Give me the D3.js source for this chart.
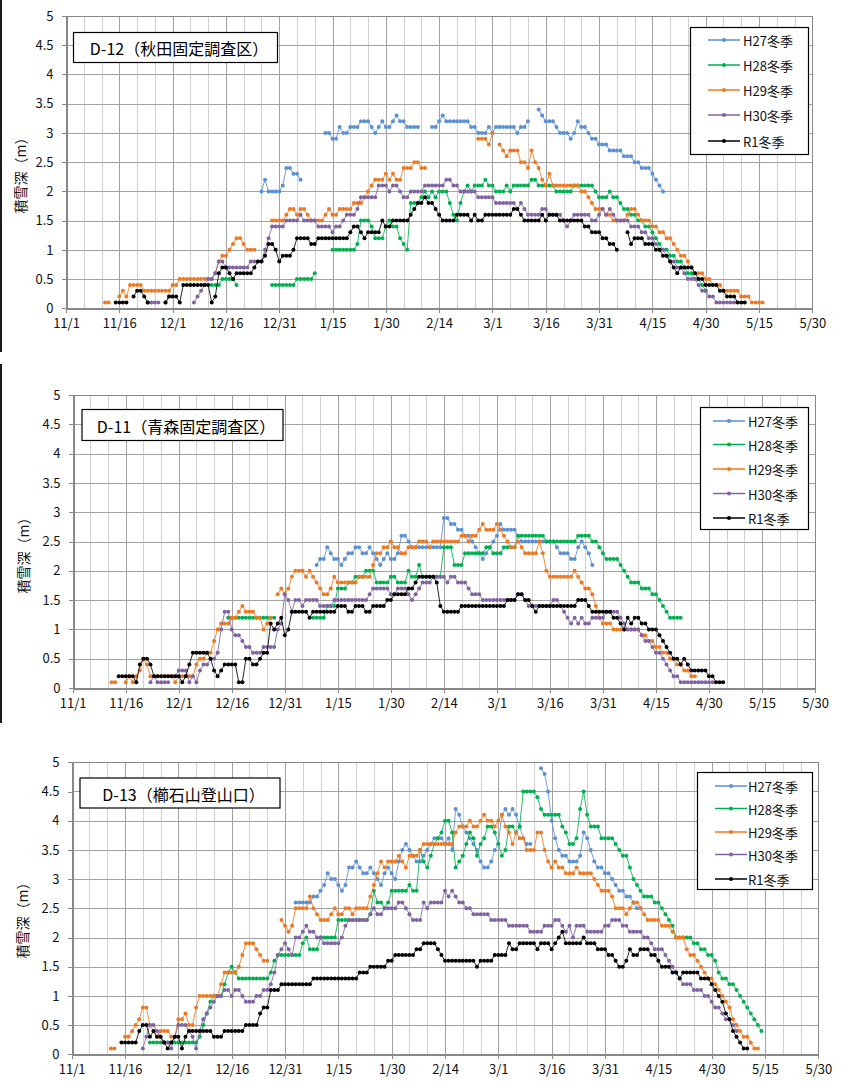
<!DOCTYPE html>
<html>
<head>
<meta charset="utf-8">
<script src="https://cdn.jsdelivr.net/npm/d3@7"></script>
<style>
  body { margin: 0; background: #fff; }
  svg { display: block; }
</style>
</head>
<body>
<svg id="chart" width="848" height="1082"></svg>
<script>
// ---- Axis labels and series names ----
const xTickLabels = ["11/1","11/16","12/1","12/16","12/31","1/15","1/30","2/14","3/1","3/16","3/31","4/15","4/30","5/15","5/30"];
const yTickValues = [0,0.5,1,1.5,2,2.5,3,3.5,4,4.5,5];
const seasons = ["H27冬季","H28冬季","H29冬季","H30冬季","R1冬季"];
const seasonColors = ["#5b8fd6","#00b050","#f07820","#8064a2","#000000"];

// Snow depth (m), one value per day; each segment is [day offset from 11/1, values]
// ---- D-12 秋田固定調査区 ----
const d12H27 = [
  [55, [2.0,2.2,2.0,2.0,2.0,2.0,2.1,2.4,2.4,2.3,2.3,2.2]],
  [73, [3.0,3.0,2.9,2.9,3.1,3.0,3.0,3.1,3.1,3.1,3.2,3.2,3.2,3.1,3.0,3.1,3.2,3.1,3.1,3.2,3.3,3.2,3.2,3.1,3.1,3.1,3.1]],
  [103,[3.1,3.1,3.2,3.3,3.2,3.2,3.2,3.2,3.2,3.2,3.2,3.1,3.1,3.0,3.0,3.0,3.1,3.0,3.1,3.1,3.1,3.1,3.1,3.1,3.0,3.1,3.1,3.2]],
  [133,[3.4,3.3,3.2,3.2,3.2,3.1,3.0,3.0,3.0,2.9,3.0,3.2,3.1,3.1,3.0,2.9,2.9,2.8,2.8,2.8,2.7,2.7,2.7,2.7,2.6,2.6,2.6,2.5,2.5,2.4,2.4,2.4,2.3,2.2,2.1,2.0]]
];
const d12H28 = [
  [41, [0.4,0.4,0.4,0.5,0.5,0.5,0.5,0.4]],
  [58, [0.4,0.4,0.4,0.4,0.4,0.4,0.4,0.5,0.5,0.5,0.5,0.5,0.6]],
  [75, [1.0,1.0,1.0,1.0,1.0,1.0,1.0,1.1,1.5,1.5,1.5,1.4,1.2,1.2,1.2,1.4,1.5,1.4,1.4,1.2,1.1,1.0,
        1.8,1.8,1.8,1.9,2.0,1.9,2.0,1.9,2.0,2.0,2.0,1.8,1.6,1.5,1.8,2.0,
        2.1,2.0,2.1,2.1,2.1,2.2,2.1,2.1,2.0,2.0,2.0,2.1,2.0,2.1,2.1,2.1,2.1,2.1,2.2,2.2,2.1,2.1,2.1,2.1,2.1,2.0,2.0,2.0,2.0,2.0,2.1,2.1,2.1,2.1,2.1,2.1,
        2.0,1.9,1.9,1.9,2.0,1.9,1.9,1.8,1.7,1.7,1.6,1.6,1.5,1.5,1.4,1.4,1.3,1.2,1.1,1.0,1.0,0.9,0.9,0.8,0.8,0.7,0.6,0.6,0.5,0.5,0.4,0.3]]
];
const d12H29 = [
  [11, [0.1,0.1]],
  [15, [0.2,0.3,0.2,0.4,0.4,0.4,0.4,0.3,0.3,0.3,0.3,0.3,0.3,0.3,0.3,0.4,0.4,0.5,0.5,0.5,0.5,0.5,0.5,0.5,0.5,0.5,0.5,0.6,0.8,0.9,0.9,1.0,1.1,1.2,1.2,1.1,1.0,1.0,1.0]],
  [58, [1.5,1.5,1.5,1.5,1.6,1.7,1.7,1.6,1.7,1.7,1.6,1.5,1.5,1.5,1.5,1.6,1.7,1.6,1.6,1.7,1.7,1.7,1.7,1.8,1.8,1.8,1.9,2.0,2.1,2.2,2.2,2.2,2.3,2.2,2.3,2.2,2.2,2.4,2.4,2.4,2.5,2.5,2.4,2.4]],
  [116,[2.9,2.9,2.9,2.8,3.0]],
  [122,[2.8,2.7,2.6,2.7,2.7,2.7,2.5,2.5,2.4,2.7,2.5,2.4,2.2,2.1,2.3,2.1,2.1,2.1,2.1,2.1,2.1,2.1,2.1,2.0,2.0,1.9,1.8,1.7,1.7,1.7,1.6,1.6,1.5,1.5,1.5,1.5,1.6,1.7,1.7,1.6,1.5,1.5,1.5,1.4,1.4,1.3,1.3,1.2,1.2,1.1,1.0,0.9,0.9,0.8,0.7,0.6,0.6,0.6,0.5,0.5,0.4,0.4,0.4,0.3,0.3,0.3,0.3,0.3,0.2,0.2,0.2,0.1,0.1,0.1,0.1]]
];
const d12H30 = [
  [23, [0.1,0.1,0.1,0.1]],
  [28, [0.1,0.2,0.2]],
  [36, [0.1,0.2,0.3,0.4,0.5,0.5,0.6,0.8,0.8,0.7,0.7,0.7,0.7,0.7,0.7,0.7,0.8,0.8,0.8,0.8,1.0,1.2,1.4,1.4,1.4,1.4,1.5,1.5,1.5,1.5,
        1.6,1.5,1.5,1.5,1.5,1.4,1.4,1.4,1.4,1.3,1.4,1.4,1.5,1.6,1.6,1.6,1.7,1.9,1.9,1.9,1.9,1.9,2.1,2.1,2.1,2.0,2.1,2.1,2.0,1.9,1.9,
        2.0,2.0,2.0,2.0,2.1,2.1,2.1,2.1,2.1,2.1,2.2,2.2,2.1,2.1,2.0,2.0,2.0,2.0,2.0,1.9,1.9,1.9,1.9,1.9,1.8,1.8,1.8,1.8,1.8,1.8,
        1.7,1.8,1.7,1.6,1.6,1.6,1.6,1.7,1.7,1.6,1.6,1.6,1.6,1.5,1.4,1.5,1.6,1.6,1.6,1.6,1.6,1.5,1.5,1.6,1.7,1.6,1.7,1.6,
        1.5,1.5,1.5,1.5,1.4,1.4,1.4,1.3,1.3,1.2,1.2,1.1,1.0,1.0,0.9,0.8,0.8,0.7,0.7,0.6,0.5,0.5,0.5,0.4,0.3,0.3,0.2,0.2,0.1,0.1,0.1,0.1,0.1,0.1]]
];
const d12R1 = [
  [14, [0.1,0.1,0.1,0.1]],
  [19, [0.2,0.3,0.3,0.2,0.1]],
  [28, [0.1,0.2,0.2,0.2,0.1,0.4,0.4,0.4,0.4,0.4,0.4,0.4,0.4,0.1,0.2,0.6,0.7,0.7,0.6,0.5,0.6,0.6,0.6,0.6,0.6,0.7,0.8,0.8,0.9,
        1.1,1.1,1.0,0.8,0.9,0.9,0.9,1.0,1.2,1.2,1.2,1.2,1.1,1.1,1.2,1.2,1.2,1.2,1.2,1.2,1.2,1.2,1.2,1.3,1.4,1.4,1.3,1.2,
        1.3,1.3,1.3,1.3,1.5,1.4,1.4,1.5,1.5,1.5,1.5,1.5,1.6,1.7,1.8,1.8,1.9,1.8,1.8,1.7,1.6,1.5,1.5,1.5,1.5,1.6,1.6,1.6,1.6,
        1.5,1.6,1.5,1.5,1.6,1.6,1.6,1.6,1.6,1.6,1.6,1.6,1.7,1.7,1.6,1.5,1.5,1.5,1.5,1.5,1.6,1.5,1.6,1.6,1.6,
        1.5,1.5,1.5,1.5,1.5,1.5,1.5,1.4,1.4,1.3,1.3,1.3,1.2,1.2,1.1,1.1,1.0]],
  [158,[1.3,1.1,1.2,1.2,1.2,1.1,1.1,1.1,1.0,1.0,0.9,0.9,0.8,0.7,0.6,0.7,0.7,0.7,0.7,0.6,0.5,0.5,0.4,0.4,0.4,0.4,0.3,0.3,0.2,0.2,0.2,0.1,0.1,0.1]]
];

// ---- D-11 青森固定調査区 ----
const d11H27 = [
  [69, [2.1,2.2,2.2,2.4,2.3,2.2,2.2,2.1,2.2,2.3,2.3,2.4,2.4,2.3,2.3,2.4,2.3,2.2,2.1,2.2,2.3,2.2,2.2,2.3,2.6,2.6,2.5,
        2.4,2.4,2.4,2.4,2.4,2.4,2.4,2.4,2.4,2.9,2.9,2.8,2.8,2.7,2.7,2.6,2.6,2.5,2.4,2.3,2.2,2.3,2.4,2.5,2.6,2.8,
        2.7,2.7,2.7,2.7,2.6,2.5,2.5,2.5,2.5,2.5,2.5,2.5,2.5,2.5,2.5,2.4,2.3,2.3,2.3,2.2,2.2,2.4,2.5,2.4,2.3,2.1]]
];
const d11H28 = [
  [44, [1.2,1.2,1.2,1.2,1.2,1.2,1.2,1.2,1.2,1.2,1.2,1.2,1.2,1.2]],
  [68, [1.2,1.2,1.2,1.2,1.4,1.4,1.4,1.7,1.7,1.7,1.8,1.8,1.9,1.9,1.9,2.0,2.0,2.0,1.8,1.8,1.8,1.8,1.9,1.9,1.8,1.8,1.8,
        2.0,1.9,1.9,2.1,1.9,1.9,1.9,1.9,1.9,1.9,2.4,2.4,2.4,2.1,2.1,2.1,2.3,2.3,2.3,2.3,2.3,2.3,2.4,2.4,2.3,2.3,2.3,
        2.4,2.4,2.4,2.4,2.6,2.6,2.6,2.6,2.6,2.6,2.6,2.6,2.5,2.5,2.5,2.5,2.5,2.5,2.5,2.5,2.5,2.6,2.6,2.6,2.6,2.5,2.5,
        2.4,2.3,2.2,2.2,2.2,2.2,2.1,2.0,1.9,1.8,1.8,1.8,1.7,1.7,1.7,1.6,1.6,1.5,1.4,1.3,1.2,1.2,1.2,1.2]]
];
const d11H29 = [
  [11, [0.1,0.1]],
  [15, [0.1,0.2,0.1,0.2,0.3,0.5,0.4,0.2,0.2,0.2,0.2,0.2,0.2,0.2,0.1,0.2,0.2,0.2,0.2,0.2,
        0.4,0.5,0.5,0.6,0.6,0.8,1.0,1.1,1.1,1.1,1.2,1.2,1.3,1.4,1.3,1.3,1.3,1.2,1.2,1.0,1.1,1.2]],
  [58, [1.6,1.7,1.6,1.7,1.9,2.0,2.0,2.0,1.9,2.0,1.9,1.8,1.7,1.6,1.6,1.7,1.9,1.8,1.8,1.8,1.8,1.8,1.8,1.9,1.9,1.9,1.9,
        2.1,2.3,2.3,2.4,2.4,2.5,2.4,2.4,2.3,2.3,2.4,2.4,2.4,2.5,2.5,2.5,2.4,2.5,2.5,2.5,2.5,2.5,2.5,2.5,2.5,
        2.6,2.6,2.5,2.6,2.6,2.7,2.8,2.7,2.7,2.7,2.8,2.7,2.6,2.5,2.4,2.4,2.5,2.4,2.3,2.3,2.3,2.3,2.5,2.3,2.0,
        1.9,1.9,1.9,1.9,1.9,1.9,1.9,2.0,1.9,1.8,1.7,1.7,1.6,1.4,1.2,1.1,1.1,1.1,1.0,1.0,1.0,1.0,1.0,1.0,1.0,1.0,
        0.9,0.9,0.8,0.8,0.7,0.7,0.6,0.6,0.5,0.5,0.4,0.4,0.3,0.3,0.2,0.2]]
];
const d11H30 = [
  [22, [0.1,0.2,0.1,0.1,0.1,0.1]],
  [29, [0.2,0.3,0.3,0.3,0.1,0.2,0.1,0.3,0.4,0.4,0.5,0.5,0.6,1.0,1.3,1.3,1.0,0.9,0.9,0.8,0.7,0.7,0.6,0.6,0.6,0.7,0.7,0.7,0.7,
        1.0,1.1,1.6,1.5,1.3,1.5,1.5,1.4,1.5,1.5,1.5,1.5,1.4,1.4,1.4,1.4,1.5,1.5,1.5,1.5,1.5,1.5,1.5,1.5,1.5,1.5,
        1.6,1.7,1.7,1.7,1.7,1.7,1.6,1.6,1.7,1.7,1.7,1.6,1.5,1.6,1.7,1.8,1.8,1.8,1.9,1.9,1.9,1.9,1.8,1.9,1.9,1.8,1.8,1.8,
        1.7,1.6,1.6,1.6,1.5,1.5,1.5,1.5,1.5,1.5,1.5,1.5,1.5,1.5,1.6,1.6,1.5,1.4,1.4,1.4,1.4,1.4,1.4,1.4,1.5,1.5,
        1.4,1.3,1.2,1.1,1.2,1.1,1.2,1.1,1.1,1.2,1.2,1.2,1.2,1.3,1.3,1.3,1.3,1.2,1.1,1.0,1.0,1.0,1.0,
        0.9,0.8,0.8,0.7,0.6,0.6,0.5,0.4,0.3,0.2,0.2,0.1,0.1,0.1,0.1,0.1,0.1,0.1,0.1,0.1,0.1]]
];
const d11R1 = [
  [13, [0.2,0.2,0.2,0.2,0.2,0.1,0.4,0.5,0.5,0.4,0.2,0.2,0.2,0.2,0.2,0.2,0.2,0.2,0.1,0.2,0.4,0.6,0.6,0.6,0.6,0.6,
        0.5,0.3,0.2,0.3,0.4,0.4,0.4,0.4,0.1,0.1,0.5,0.5,0.4,0.4,0.5,0.6,0.6,1.1,1.0,1.1,1.2,0.9,1.0,
        1.3,1.3,1.3,1.3,1.3,1.2,1.3,1.3,1.3,1.3,1.3,1.3,1.3,1.4,1.4,1.4,1.3,1.3,1.4,1.4,1.4,1.3,1.3,1.4,1.4,1.4,1.4,
        1.5,1.5,1.6,1.6,1.6,1.6,1.7,1.7,1.8,1.9,1.9,1.9,1.9,1.9,1.8,1.4,1.3,1.3,1.3,1.3,1.3,
        1.4,1.4,1.4,1.4,1.4,1.4,1.4,1.4,1.4,1.4,1.4,1.4,1.4,1.5,1.5,1.5,1.6,1.6,1.5,1.5,1.4,1.3,
        1.4,1.4,1.4,1.4,1.4,1.4,1.4,1.4,1.4,1.4,1.4,1.5,1.5,1.5,1.4,1.3,1.3,1.3,1.3,1.3,1.3,1.2,1.2,
        1.1,1.0,1.2,1.1,1.2,1.2,1.1,1.1,1.0,1.0,1.0,0.9,0.8,0.7,0.6,0.5,0.5,0.4,0.5,0.4,0.3,0.3,0.3,0.3,0.3,0.2,0.2,0.1,0.1,0.1]]
];

// ---- D-13 櫛石山登山口 ----
const d13H27 = [
  [63, [2.6,2.6,2.6,2.6,2.6,2.7,2.7,2.8,2.9,3.1,3.0,3.0,2.9,2.8,2.9,3.2,3.2,3.3,3.2,3.1,3.1,3.2,3.1,3.0,2.9,3.1,3.2,3.1,3.0,
        3.3,3.5,3.6,3.5,3.4,3.3,3.3,3.4,3.5,3.6,3.7,3.7,3.7,3.6,3.7,3.5,4.2,4.1,3.9,3.8,3.7,3.6,3.5,3.3,3.2,3.2,3.3,3.5,3.6,
        4.1,4.2,4.1,4.2,4.1,3.9,3.7,3.6,3.6]],
  [132,[4.9,4.8,4.5,4.0,3.7,3.5,3.4,3.4,3.3,3.3,3.3,3.4,3.8,3.7,3.5,3.3,3.2,3.2,3.1,3.1,3.0,2.9,2.8,2.8,2.7,2.7,2.6,2.5,2.5]]
];
const d13H28 = [
  [22, [0.2,0.2,0.2,0.2,0.2,0.2,0.2,0.2,0.2,0.2,0.2,0.2,0.2,0.2,0.3,0.5,0.7,0.9,1.0,1.0,1.0,1.2,1.4,1.5,1.4,
        1.3,1.3,1.3,1.3,1.3,1.3,1.3,1.3,1.3,1.4,1.6,1.7,1.7,1.7,1.7,1.7,1.7,1.7,1.9,2.0,1.8,1.8,1.8,2.0,2.0,2.0,2.0,2.0,
        2.3,2.3,2.3,2.3,2.3,2.3,2.3,2.3,2.3,2.4,2.8,2.6,2.6,2.5,2.6,2.8,2.8,2.8,2.8,2.8,2.9,2.8,2.8,
        3.5,3.3,3.2,3.4,3.6,3.7,3.8,4.0,4.0,3.8,3.2,3.3,3.4,3.6,3.8,3.7,3.4,3.6,3.7,3.9,3.9,3.8,3.6,3.4,3.5,3.9,3.9,3.8,3.9,
        4.5,4.5,4.5,4.5,4.4,4.2,4.1,4.1,4.1,4.1,4.1,3.9,3.8,3.6,3.6,3.7,4.2,4.5,4.1,3.9,3.9,3.9,3.7,3.7,3.7,3.7,
        3.6,3.5,3.4,3.4,3.2,3.0,2.9,2.8,2.7,2.7,2.7,2.6,2.6,2.5,2.4,2.3,2.2,2.0,2.0,2.0,2.0,2.0,1.9,1.9,1.8,1.8,1.7,1.7,
        1.6,1.4,1.3,1.3,1.2,1.2,1.1,1.0,0.9,0.8,0.7,0.6,0.5,0.4]]
];
const d13H29 = [
  [11, [0.1,0.1]],
  [15, [0.3,0.3,0.4,0.5,0.6,0.8,0.8,0.5,0.4,0.3,0.4,0.4,0.4,0.3,0.3,0.6,0.6,0.7,0.5,0.5,0.8,1.0,1.0,1.0,1.0,1.0,1.0,
        1.2,1.4,1.4,1.4,1.4,1.5,1.7,1.9,1.9,1.9,1.8,1.7,1.6,1.6]],
  [59, [2.3,2.2,2.1,2.2,2.5,2.5,2.5,2.5,2.7,2.5,2.4,2.3,2.3,2.3,2.4,2.5,2.4,2.4,2.5,2.5,2.4,2.5,2.5,2.5,2.5,
        2.7,2.9,3.1,3.3,3.2,3.3,3.3,3.3,3.4,3.3,3.2,3.4,3.4,3.4,3.5,3.6,3.6,3.6,3.6,3.6,3.6,3.6,3.6,3.6,3.8,3.9,3.9,3.9,
        4.0,3.9,3.9,4.0,4.1,4.0,4.0,3.9,4.0,4.1,3.9,3.8,3.6,3.8,3.7,3.7,3.5,3.5,3.5,3.8,3.8,3.5,3.3,3.2,3.3,3.2,3.2,
        3.1,3.1,3.1,3.2,3.1,3.1,3.1,3.1,3.0,2.9,2.8,2.8,2.8,2.7,2.5,2.5,2.5,2.4,2.5,2.6,2.6,2.5,2.4,2.3,2.3,2.3,2.3,
        2.2,2.2,2.2,2.1,2.0,2.0,2.0,1.8,1.7,1.7,1.6,1.5,1.4,1.3,1.3,1.2,1.1,1.0,0.9,0.8,0.6,0.5,0.4,0.3,0.3,0.2,0.1,0.1]]
];
const d13H30 = [
  [20, [0.1,0.3,0.5,0.5,0.4,0.3,0.2,0.2,0.1,0.3,0.5,0.5,0.5,0.4,0.3,0.1,0.4,0.6,0.7,0.8,0.9,1.0,1.0,1.1,1.1,
        1.0,1.1,1.1,1.0,0.9,0.9,0.9,1.0,1.0,1.1,1.1,1.2,1.4,1.7,1.8,1.9,1.8,1.7,2.0,2.0,2.1,2.2,2.1,2.1,2.0,2.0,
        1.9,1.9,1.9,1.9,1.9,2.0,2.2,2.3,2.3,2.3,2.3,2.3,2.3,2.4,2.5,2.4,2.4,2.5,2.5,2.5,2.5,2.6,2.6,2.5,2.4,
        2.3,2.3,2.3,2.6,2.5,2.6,2.6,2.6,2.6,2.8,2.7,2.8,2.7,2.6,2.6,2.5,2.5,2.4,2.4,2.4,2.4,2.4,2.3,2.3,2.3,2.3,2.3,
        2.2,2.2,2.2,2.2,2.2,2.2,2.1,2.1,2.1,2.1,2.2,2.2,2.2,2.3,2.3,2.2,2.1,2.2,2.0,2.2,2.2,2.2,2.1,2.1,2.1,2.1,2.1,
        2.2,2.2,2.3,2.3,2.3,2.2,2.2,2.1,2.1,2.1,2.1,2.0,2.0,1.9,1.8,1.8,1.8,1.7,1.6,1.5,1.4,1.3,1.2,1.2,1.2,
        1.1,1.1,1.1,1.0,1.0,0.9,0.8,0.8,0.7,0.6,0.6,0.5,0.4]]
];
const d13R1 = [
  [14, [0.2,0.2,0.2,0.2,0.2,0.4,0.5,0.5,0.3,0.4,0.3,0.3,0.2,0.1,0.2,0.3,0.3,0.1,0.3,0.4,0.4,0.4,0.4,0.4,0.4,0.4,
        0.3,0.3,0.3,0.4,0.4,0.4,0.4,0.4,0.4,0.5,0.5,0.5,0.5,0.7,0.8,0.8,1.1,1.1,1.1,1.2,1.2,1.2,1.2,1.2,1.2,1.2,1.2,1.2,
        1.3,1.3,1.3,1.3,1.3,1.3,1.3,1.3,1.3,1.3,1.3,1.3,1.3,1.4,1.4,1.4,1.5,1.5,1.5,1.5,1.5,1.6,1.6,
        1.7,1.7,1.7,1.7,1.7,1.7,1.8,1.8,1.9,1.9,1.9,1.9,1.8,1.7,1.6,1.6,1.6,1.6,1.6,1.6,1.6,1.6,1.6,1.5,
        1.6,1.6,1.6,1.6,1.7,1.7,1.7,1.7,1.9,1.8,1.8,1.9,1.9,1.9,1.9,1.9,1.8,1.9,1.9,1.9,1.8,1.9,2.0,2.1,
        1.9,1.9,1.9,1.9,1.9,2.0,1.9,1.9,1.9,1.8,1.8,1.8,1.7,1.7,1.6,1.5,1.5,1.6,1.8,1.7,1.7,1.8,1.8,1.8,1.7,1.7,
        1.6,1.5,1.5,1.5,1.4,1.4,1.3,1.4,1.4,1.4,1.4,1.4,1.3,1.3,1.3,1.2,1.1,1.0,0.9,0.7,0.6,0.4,0.3,0.2,0.1,0.1]]
];

// ---- Panel layout ----
const panels = [
  { title: "D-12（秋田固定調査区）", series: [d12H27, d12H28, d12H29, d12H30, d12R1],
    x0: 66, x1: 812.3, y0: 16, y1: 308.3,
    titleBox: { x: 73, y: 32, w: 204, h: 30 },
    legend: { x: 690, y: 27, w: 118, h: 127, rows: [40, 65, 90, 115, 141], lx0: 708, lx1: 740, tx: 743 },
    yTitle: { x: 20, y: 172 }, edge: [0, 352] },
  { title: "D-11（青森固定調査区）", series: [d11H27, d11H28, d11H29, d11H30, d11R1],
    x0: 72.7, x1: 815, y0: 395, y1: 688,
    titleBox: { x: 81.5, y: 409, w: 201, h: 31 },
    legend: { x: 700, y: 407, w: 108, h: 122, rows: [421, 444.5, 469, 493.5, 518], lx0: 713, lx1: 745, tx: 748 },
    yTitle: { x: 22.5, y: 552 }, edge: [364, 723] },
  { title: "D-13（櫛石山登山口）", series: [d13H27, d13H28, d13H29, d13H30, d13R1],
    x0: 71.7, x1: 818.3, y0: 762.3, y1: 1054.3,
    titleBox: { x: 79.5, y: 777.5, w: 200, h: 30 },
    legend: { x: 697, y: 772, w: 115, h: 117, rows: [786, 808.5, 832, 854.5, 879], lx0: 715, lx1: 747, tx: 748 },
    yTitle: { x: 22, y: 917 }, edge: null }
];

const FONT = '"Noto Sans CJK JP", "Noto Sans", sans-serif';
const svg = d3.select("#chart");
svg.append("rect").attr("width", 848).attr("height", 1082).attr("fill", "#fff");

const crisp = v => Math.round(v) + 0.5;

panels.forEach(p => {
  const g = svg.append("g");
  const x = d3.scaleLinear().domain([0, 210]).range([p.x0, p.x1]);
  const y = d3.scaleLinear().domain([0, 5]).range([p.y1, p.y0]);

  if (p.edge) {
    g.append("rect").attr("x", 0).attr("y", p.edge[0]).attr("width", 2)
      .attr("height", p.edge[1] - p.edge[0]).attr("fill", "#1c1c1c");
  }

  // grid: light lines every 5 days, darker every 15 days, horizontal every 0.5 m
  const grid = g.append("g").attr("shape-rendering", "crispEdges");
  grid.selectAll("line.minor").data(d3.range(5, 210, 5).filter(d => d % 15 !== 0)).join("line")
    .attr("class", "minor")
    .attr("x1", d => crisp(x(d))).attr("x2", d => crisp(x(d)))
    .attr("y1", p.y0).attr("y2", p.y1).attr("stroke", "#d0d0d0");
  grid.selectAll("line.major").data(d3.range(15, 210, 15)).join("line")
    .attr("class", "major")
    .attr("x1", d => crisp(x(d))).attr("x2", d => crisp(x(d)))
    .attr("y1", p.y0).attr("y2", p.y1).attr("stroke", "#a2a2a2");
  grid.selectAll("line.h").data(yTickValues.filter(v => v > 0 && v < 5)).join("line")
    .attr("class", "h")
    .attr("x1", p.x0).attr("x2", p.x1)
    .attr("y1", d => crisp(y(d))).attr("y2", d => crisp(y(d))).attr("stroke", "#a2a2a2");
  grid.append("rect")
    .attr("x", crisp(p.x0)).attr("y", crisp(p.y0))
    .attr("width", Math.round(p.x1) - Math.round(p.x0)).attr("height", Math.round(p.y1) - Math.round(p.y0))
    .attr("fill", "none").attr("stroke", "#888");

  // axes
  const yAxis = g.append("g").attr("transform", `translate(${crisp(p.x0)},0)`)
    .call(d3.axisLeft(y).tickValues(yTickValues).tickSize(5).tickPadding(8).tickFormat(d3.format("~g")));
  const xAxis = g.append("g").attr("transform", `translate(0,${crisp(p.y1)})`)
    .call(d3.axisBottom(x).tickValues(d3.range(0, 211, 15)).tickSize(4).tickPadding(6)
      .tickFormat((d, i) => xTickLabels[i]));
  [yAxis, xAxis].forEach(a => {
    a.attr("font-family", FONT).attr("font-size", 13);
    a.select(".domain").attr("stroke", "#888").attr("shape-rendering", "crispEdges");
    a.selectAll(".tick line").attr("stroke", "#888").attr("shape-rendering", "crispEdges");
    a.selectAll(".tick text").attr("fill", "#111");
  });

  // series: thin lines with daily dot markers, later seasons drawn on top
  const line = d3.line().x(d => x(d.day)).y(d => y(d.v));
  p.series.forEach((segments, si) => {
    const col = seasonColors[si];
    const sg = g.append("g");
    segments.forEach(([start, vals]) => {
      const pts = vals.map((v, i) => ({ day: start + i, v }));
      sg.append("path").datum(pts).attr("d", line)
        .attr("fill", "none").attr("stroke", col).attr("stroke-width", 1)
        .attr("stroke-opacity", 0.85).attr("stroke-linejoin", "round");
      sg.selectAll(null).data(pts).join("circle")
        .attr("cx", d => x(d.day)).attr("cy", d => y(d.v)).attr("r", 2).attr("fill", col);
    });
  });

  // site title box
  const tb = p.titleBox;
  g.append("rect").attr("x", tb.x + 0.5).attr("y", tb.y + 0.5).attr("width", tb.w).attr("height", tb.h)
    .attr("fill", "#fff").attr("stroke", "#000").attr("stroke-width", 1.2);
  g.append("text").attr("x", tb.x + tb.w / 2 + 4).attr("y", tb.y + tb.h / 2 + 1)
    .attr("text-anchor", "middle").attr("dominant-baseline", "central")
    .attr("font-family", FONT).attr("font-size", 16).attr("fill", "#000").text(p.title);

  // legend
  const lg = p.legend;
  g.append("rect").attr("x", lg.x + 0.5).attr("y", lg.y + 0.5).attr("width", lg.w).attr("height", lg.h)
    .attr("fill", "#fff").attr("stroke", "#000").attr("stroke-width", 1.2);
  seasons.forEach((name, i) => {
    const ry = lg.rows[i];
    g.append("line").attr("x1", lg.lx0).attr("x2", lg.lx1).attr("y1", ry).attr("y2", ry)
      .attr("stroke", seasonColors[i]).attr("stroke-width", 1.5);
    g.append("circle").attr("cx", (lg.lx0 + lg.lx1) / 2).attr("cy", ry).attr("r", 2)
      .attr("fill", seasonColors[i]);
    g.append("text").attr("x", lg.tx).attr("y", ry + 0.5).attr("dominant-baseline", "central")
      .attr("font-family", FONT).attr("font-size", 13).attr("fill", "#111").text(name);
  });

  // y-axis title
  g.append("text").attr("transform", `translate(${p.yTitle.x},${p.yTitle.y}) rotate(-90)`)
    .attr("text-anchor", "middle").attr("dominant-baseline", "central")
    .attr("font-family", FONT).attr("font-size", 14).attr("fill", "#111").text("積雪深（m）");
});
</script>
</body>
</html>
